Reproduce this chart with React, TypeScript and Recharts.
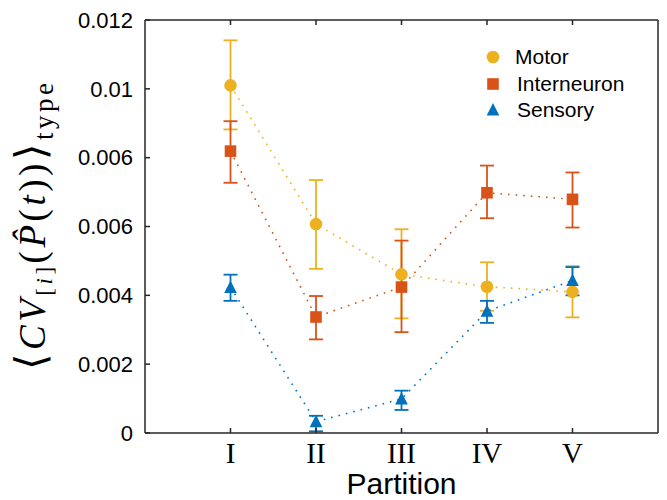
import { LineChart, Line, XAxis, YAxis, ErrorBar, Legend } from 'recharts'

const PARTITIONS = ['I', 'II', 'III', 'IV', 'V']
const X_TICKS = [1, 2, 3, 4, 5]
const Y_TICKS = [0, 0.002, 0.004, 0.006, 0.008, 0.01, 0.012]
const Y_TICK_LABELS = ['0', '0.002', '0.004', '0.006', '0.006', '0.01', '0.012']

const MOTOR = [0.0101, 0.00607, 0.00461, 0.00425, 0.0041]
const MOTOR_LOWER = [0.00882, 0.00477, 0.00333, 0.00355, 0.00336]
const MOTOR_UPPER = [0.01141, 0.00735, 0.00592, 0.00496, 0.00485]

const INTERNEURON = [0.00819, 0.00337, 0.00424, 0.00698, 0.00679]
const INTERNEURON_LOWER = [0.00727, 0.00272, 0.00293, 0.00624, 0.00597]
const INTERNEURON_UPPER = [0.00906, 0.00398, 0.00559, 0.00777, 0.00757]

const SENSORY = [0.00423, 0.00033, 0.00099, 0.00354, 0.00443]
const SENSORY_LOWER = [0.00384, 0.00005, 0.00067, 0.0032, 0.004]
const SENSORY_UPPER = [0.0046, 0.0005, 0.00123, 0.00384, 0.00482]

const SERIES = [
  { key: 'motor', label: 'Motor', color: '#EDB120', shape: 'circle', mean: MOTOR, lower: MOTOR_LOWER, upper: MOTOR_UPPER },
  { key: 'interneuron', label: 'Interneuron', color: '#D95319', shape: 'square', mean: INTERNEURON, lower: INTERNEURON_LOWER, upper: INTERNEURON_UPPER },
  { key: 'sensory', label: 'Sensory', color: '#0072BD', shape: 'triangle', mean: SENSORY, lower: SENSORY_LOWER, upper: SENSORY_UPPER },
]

const data = X_TICKS.map((x, i) => {
  const row: Record<string, number | number[]> = { x }
  SERIES.forEach((s) => {
    row[s.key] = s.mean[i]
    row[s.key + 'Err'] = [s.mean[i] - s.lower[i], s.upper[i] - s.mean[i]]
  })
  return row
})

const AXIS = '#262626'
const SANS = "'Liberation Sans', Arial, sans-serif"
const SERIF = "'Liberation Serif', 'DejaVu Serif', serif"

function Marker({ cx, cy, shape, color }: { cx?: number; cy?: number; shape: string; color: string }) {
  if (cx == null || cy == null) return null
  if (shape === 'square') {
    return <rect x={cx - 5.8} y={cy - 5.8} width={11.6} height={11.6} fill={color} />
  }
  if (shape === 'triangle') {
    return <polygon points={`${cx},${cy - 7} ${cx + 6.3},${cy + 5.5} ${cx - 6.3},${cy + 5.5}`} fill={color} />
  }
  return <circle cx={cx} cy={cy} r={6.3} fill={color} />
}

function LegendBox() {
  return (
    <div style={{ fontFamily: SANS, fontSize: 21, color: '#000' }}>
      {SERIES.map((s) => (
        <div key={s.key} style={{ display: 'flex', alignItems: 'center', height: 26.5 }}>
          <svg width={16} height={16}>
            <Marker cx={8} cy={8} shape={s.shape} color={s.color} />
          </svg>
          <span style={{ marginLeft: s.key === 'motor' ? 14 : 16 }}>{s.label}</span>
        </div>
      ))}
    </div>
  )
}

// rotated math title: <CV_[i](P^(t))>_type
function YTitle({ viewBox }: any) {
  const cy = viewBox.y + viewBox.height / 2
  return (
    <text
      transform={`translate(45,${cy}) rotate(-90)`}
      textAnchor="middle"
      textLength={287}
      lengthAdjust="spacing"
      fontFamily={SERIF}
      fontSize={37}
      fill="#000"
    >
      <tspan fontSize={42}>⟨</tspan>
      <tspan fontStyle="italic">CV</tspan>
      <tspan fontSize={23} dy={7}>[</tspan>
      <tspan fontSize={23} fontStyle="italic">i</tspan>
      <tspan fontSize={23}>]</tspan>
      <tspan dy={-7}>(</tspan>
      <tspan fontStyle="italic">{'P\u0302'}</tspan>
      <tspan>(</tspan>
      <tspan fontStyle="italic">t</tspan>
      <tspan>))</tspan>
      <tspan fontSize={42}>⟩</tspan>
      <tspan fontSize={27} dy={8}>type</tspan>
    </text>
  )
}

function XTitle({ viewBox }: any) {
  return (
    <text
      x={viewBox.x + viewBox.width / 2}
      y={viewBox.y + viewBox.height - 6}
      textAnchor="middle"
      fontFamily={SANS}
      fontSize={30}
      fill="#000"
    >
      Partition
    </text>
  )
}

export default function App() {
  return (
    <div style={{ position: 'absolute', left: 0, top: 0, background: '#fff' }}>
      <LineChart width={667} height={500} data={data} margin={{ top: 0, right: 0, bottom: 0, left: 0 }}>
        <XAxis
          xAxisId="bottom"
          dataKey="x"
          type="number"
          domain={[0, 6]}
          ticks={X_TICKS}
          interval={0}
          height={67}
          tickSize={-5}
          tickMargin={14}
          stroke={AXIS}
          strokeWidth={1.5}
          tickFormatter={(v: number) => PARTITIONS[v - 1]}
          tick={{ fontFamily: SERIF, fontSize: 29, fill: '#000' }}
          label={(props: any) => <XTitle viewBox={props.viewBox} />}
        />
        <XAxis
          xAxisId="top"
          orientation="top"
          dataKey="x"
          type="number"
          domain={[0, 6]}
          ticks={X_TICKS}
          interval={0}
          height={20}
          tickSize={-5}
          stroke={AXIS}
          strokeWidth={1.5}
          tickFormatter={() => ''}
        />
        <YAxis
          yAxisId="left"
          type="number"
          domain={[0, 0.012]}
          ticks={Y_TICKS}
          interval={0}
          width={145}
          tickSize={-5}
          tickMargin={17}
          stroke={AXIS}
          strokeWidth={1.5}
          tickFormatter={(v: number) => Y_TICK_LABELS[Y_TICKS.indexOf(v)] ?? String(v)}
          tick={{ fontFamily: SANS, fontSize: 22, fill: '#000' }}
          label={(props: any) => <YTitle viewBox={props.viewBox} />}
        />
        <YAxis
          yAxisId="right"
          orientation="right"
          type="number"
          domain={[0, 0.012]}
          ticks={Y_TICKS}
          interval={0}
          width={9}
          tickSize={-5}
          stroke={AXIS}
          strokeWidth={1.5}
          tickFormatter={() => ''}
        />
        {SERIES.map((s) => (
          <Line
            key={s.key}
            xAxisId="bottom"
            yAxisId="left"
            dataKey={s.key}
            name={s.label}
            stroke={s.color}
            strokeWidth={1.6}
            strokeDasharray="1.6 6"
            isAnimationActive={false}
            dot={(p: any) => <Marker key={`${s.key}-${p.index}`} cx={p.cx} cy={p.cy} shape={s.shape} color={s.color} />}
            activeDot={false}
          >
            <ErrorBar dataKey={s.key + 'Err'} width={7} stroke={s.color} strokeWidth={1.8} direction="y" isAnimationActive={false} />
          </Line>
        ))}
        <Legend
          layout="horizontal"
          align="center"
          verticalAlign="middle"
          content={() => <LegendBox />}
          wrapperStyle={{ top: 44, left: 485, width: 'auto' }}
        />
      </LineChart>
    </div>
  )
}
